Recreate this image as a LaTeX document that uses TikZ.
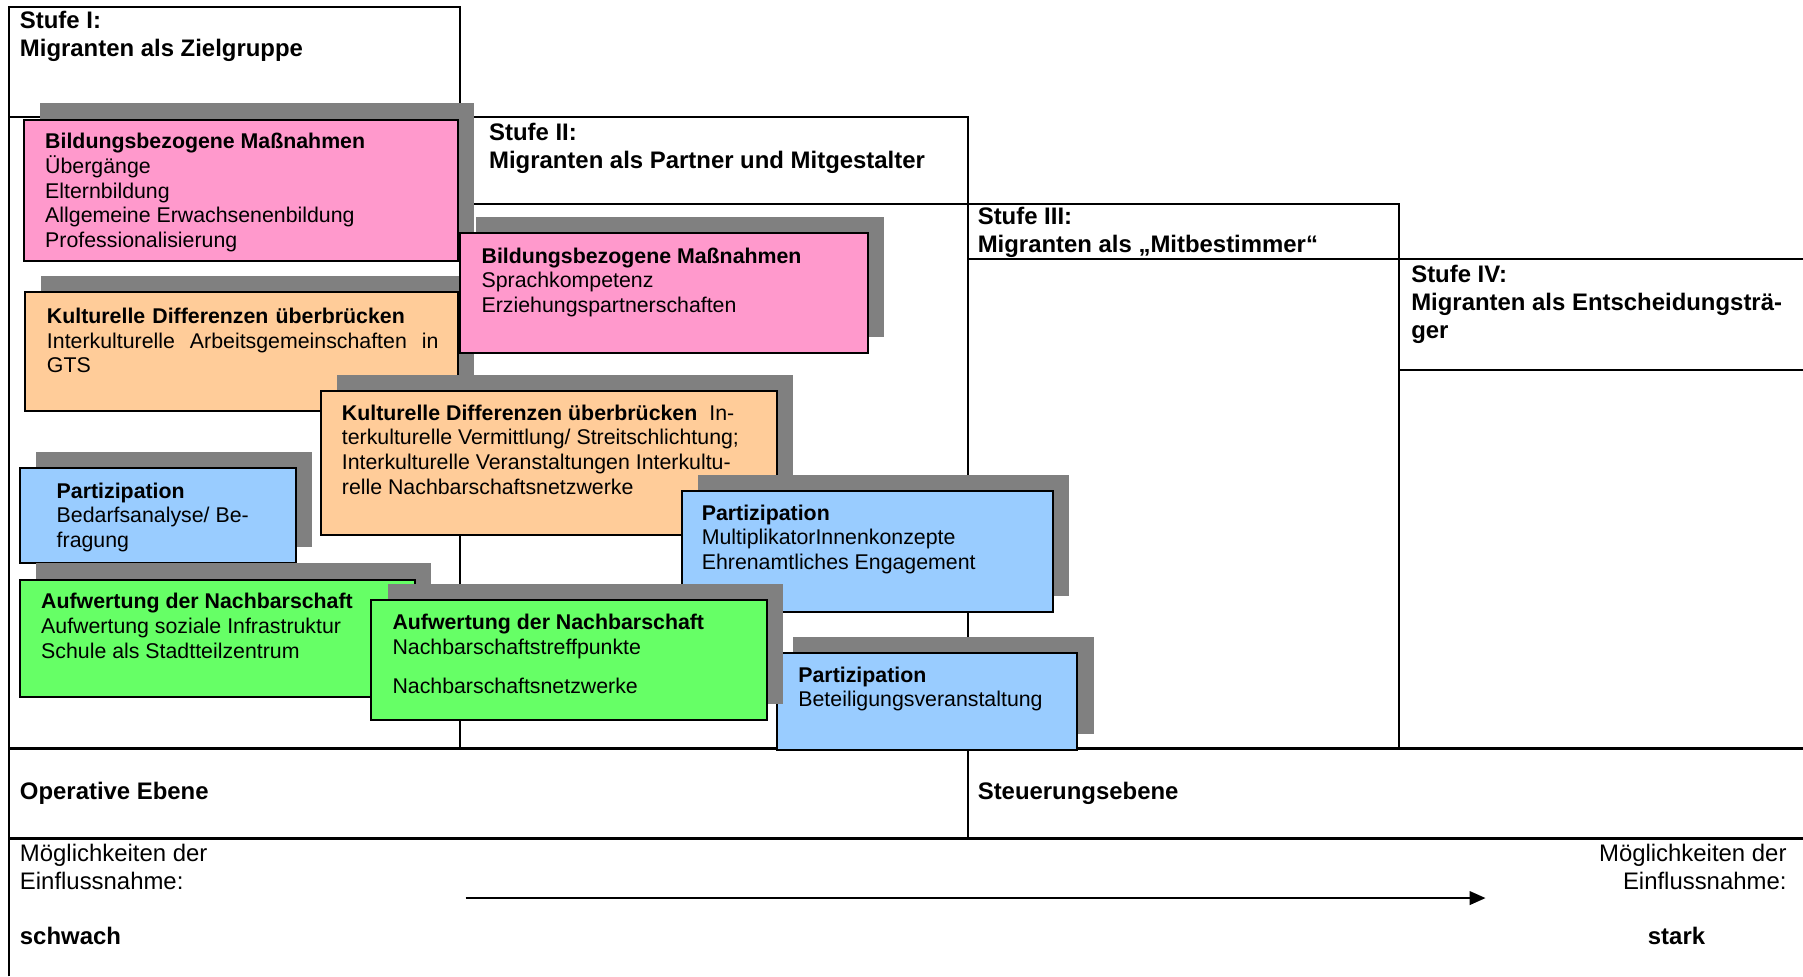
\documentclass[tikz,border=0pt]{standalone}
\usepackage{fontspec}
\setmainfont{Liberation Sans}
\usetikzlibrary{shadows,arrows.meta}

\definecolor{rosa}{HTML}{FF99CC}
\definecolor{apricot}{HTML}{FFCC99}
\definecolor{hellblau}{HTML}{99CCFF}
\definecolor{hellgruen}{HTML}{66FF66}
\definecolor{schattengrau}{HTML}{808080}

\newcommand\kastenfont{\fontsize{10.7pt}{12.4pt}\selectfont}
\newcommand\stufenfont{\fontsize{12pt}{14.1pt}\selectfont}

\tikzset{
  rahmen/.style={line width=1pt},
  trenner/.style={line width=1.6pt},
  kasten/.style={draw,line width=1pt,
    drop shadow={shadow xshift=8.1pt,shadow yshift=8.1pt,opacity=1,fill=schattengrau}},
  inhalt/.style={anchor=north west,inner sep=0pt,align=left,font=\kastenfont,
    execute at begin node=\strut},
  stufe/.style={anchor=north west,inner sep=0pt,align=left,font=\stufenfont\bfseries,
    execute at begin node=\strut},
  pfeil/.style={line width=1.3pt,-{Triangle[length=8pt,width=6.7pt]}}
}

\begin{document}
\begin{tikzpicture}[x=0.577pt,y=-0.577pt]
  \useasboundingbox (0,0) rectangle (1568,849);

  % Stufen
  \draw[rahmen] (8,849) -- (8,6) -- (400,6) -- (400,651);
  \draw[rahmen] (8,102) -- (842,102) -- (842,729);
  \draw[rahmen] (400,177) -- (1217,177) -- (1217,651);
  \draw[rahmen] (842,225) -- (1568,225);
  \draw[rahmen] (1217,322) -- (1568,322);
  \draw[trenner] (8,651) -- (1568,651);
  \draw[trenner] (8,729) -- (1568,729);

  \node[stufe] (s1) at (17,9.5) {Stufe I:\\Migranten als Zielgruppe};
  \node[stufe] (s2) at (425,106.5) {Stufe II:\\Migranten als Partner und Mitgestalter};
  \node[stufe] (s3) at (850,180) {Stufe III:\\Migranten als „Mitbestimmer“};
  \node[stufe] (s4) at (1227,230) {Stufe IV:\\Migranten als Entscheidungsträ-\\ger};

  % Kaesten
  \draw[kasten,fill=rosa] (21,104) rectangle (398,227);
  \node[inhalt] (b1) at (39,115.5) {\textbf{Bildungsbezogene Maßnahmen}\\Übergänge\\Elternbildung\\Allgemeine Erwachsenenbildung\\Professionalisierung};

  \draw[kasten,fill=apricot] (22,254) rectangle (398,357);
  \node[inhalt,text width=196.5pt] (b2) at (40.5,266) {\textbf{Kulturelle Differenzen überbrücken}\\Interkulturelle\hfill Arbeitsgemeinschaften\hfill in\\GTS};

  \draw[kasten,fill=rosa] (400,203) rectangle (755,307);
  \node[inhalt] (b3) at (418.5,215) {\textbf{Bildungsbezogene Maßnahmen}\\Sprachkompetenz\\Erziehungspartnerschaften};

  \draw[kasten,fill=apricot] (279,340) rectangle (676,465);
  \node[inhalt] (b4) at (297,351.5) {\textbf{Kulturelle Differenzen überbrücken}\hspace{6pt}In-\\terkulturelle Vermittlung/ Streitschlichtung;\\Interkulturelle Veranstaltungen Interkultu-\\relle Nachbarschaftsnetzwerke};

  \draw[kasten,fill=hellblau] (17,407) rectangle (257,490);
  \node[inhalt] (b5) at (49,419.5) {\textbf{Partizipation}\\Bedarfsanalyse/ Be-\\fragung};

  \draw[kasten,fill=hellblau] (593,427) rectangle (916,532);
  \node[inhalt] (b6) at (610,438.5) {\textbf{Partizipation}\\MultiplikatorInnenkonzepte\\Ehrenamtliches Engagement};

  \draw[kasten,fill=hellblau] (676,568) rectangle (937,652);
  \node[inhalt] (b7) at (694,579.5) {\textbf{Partizipation}\\Beteiligungsveranstaltung};

  \draw[kasten,fill=hellgruen] (17,504) rectangle (361,606);
  \node[inhalt] (b8) at (35.5,515.5) {\textbf{Aufwertung der Nachbarschaft}\\Aufwertung soziale Infrastruktur\\Schule als Stadtteilzentrum};

  \draw[kasten,fill=hellgruen] (323,522) rectangle (667,626);
  \node[inhalt] (b9) at (341,534) {\textbf{Aufwertung der Nachbarschaft}\\Nachbarschaftstreffpunkte\\[7.2pt]Nachbarschaftsnetzwerke};

  % Ebenen und Einflussnahme
  \node[stufe] (op) at (17,677.5) {Operative Ebene};
  \node[stufe] (st) at (850,677.5) {Steuerungsebene};
  \node[stufe,font=\stufenfont] (ml) at (17,733.5) {Möglichkeiten der\\Einflussnahme:};
  \node[stufe,anchor=north east,align=right,font=\stufenfont] (mr) at (1554,733.5) {Möglichkeiten der\\Einflussnahme:};
  \node[stufe] (sw) at (17,804) {schwach};
  \node[stufe,anchor=north] (sk) at (1458,804) {stark};

  \coordinate (von) at (405,781);
  \coordinate (bis) at (1292,781);
  \draw[pfeil] (von) -- (bis);
\end{tikzpicture}
\end{document}
